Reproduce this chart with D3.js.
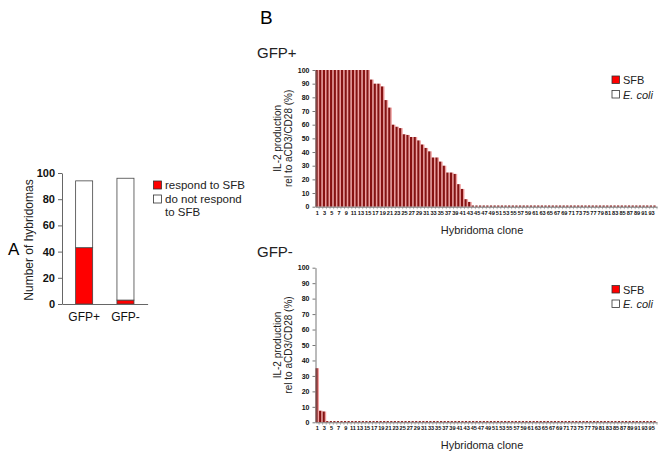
<!DOCTYPE html>
<html><head><meta charset="utf-8">
<script src="https://cdn.jsdelivr.net/npm/d3@7/dist/d3.min.js"></script>
<style>body{margin:0;background:#fff}svg{display:block;font-family:"Liberation Sans",Arial,sans-serif}</style>
</head><body>
<script>
// ---- Panel A data ----
const groupsA = ["GFP+", "GFP-"];
const respondA = [43, 3];
const notRespondA = [51, 93];
const ticksA = [0, 20, 40, 60, 80, 100];
const legendA = ["respond to SFB", "do not respond", "to SFB"];

// ---- Panel B data ----
const gfpPosValues = [100,100,100,100,100,100,100,100,100,100,100,100,100,100,100,
  93,90,90,88,78,72.5,60,58.5,57.5,53,52.5,51,51,48.5,45.5,43,40.5,36,36,33,30,25,25,24,16.5,13,5.5,3.5,
  0,0,0,0,0,0,0,0,0,0,0,0,0,0,0,0,0,0,0,0,0,0,0,0,0,0,0,0,0,0,0,0,0,0,0,0,0,0,0,0,0,0,0,0,0,0,0,0,0,0,0];
const gfpNegValues = [35,7.5,7,
  0,0,0,0,0,0,0,0,0,0,0,0,0,0,0,0,0,0,0,0,0,0,0,0,0,0,0,0,0,0,0,0,0,0,0,0,0,0,0,0,0,0,0,0,0,0,0,0,
  0,0,0,0,0,0,0,0,0,0,0,0,0,0,0,0,0,0,0,0,0,0,0,0,0,0,0,0,0,0,0,0,0,0,0,0,0,0,0,0,0,0,0,0,0];
const ticksB = [0,10,20,30,40,50,60,70,80,90,100];
const legendB = ["SFB", "E. coli"];

const svg = d3.select("body").append("svg").attr("width", 667).attr("height", 460);

// ================= Panel A =================
svg.append("text").attr("x", 8).attr("y", 255).attr("font-size", 17).text("A");
const xA = d3.scaleBand().domain(groupsA).range([62, 147.6]).paddingInner(0.588).paddingOuter(0.33);
const yA = d3.scaleLinear().domain([0, 100]).range([304, 173]);
const gA = svg.append("g");
groupsA.forEach((g, i) => {
  gA.append("rect").attr("x", xA(g)).attr("width", xA.bandwidth())
    .attr("y", yA(respondA[i])).attr("height", yA(0) - yA(respondA[i]))
    .attr("fill", "#ff0000").attr("stroke", "#444").attr("stroke-width", 0.8);
  gA.append("rect").attr("x", xA(g)).attr("width", xA.bandwidth())
    .attr("y", yA(respondA[i] + notRespondA[i])).attr("height", yA(respondA[i]) - yA(respondA[i] + notRespondA[i]))
    .attr("fill", "#fff").attr("stroke", "#444").attr("stroke-width", 0.8);
});
const axA = svg.append("g").attr("transform", "translate(62,0)")
  .call(d3.axisLeft(yA).tickValues(ticksA).tickSize(4).tickSizeOuter(0));
axA.selectAll("text").attr("font-size", 11).attr("font-weight", "bold").attr("fill", "#111")
  .attr("font-family", "Liberation Sans, Arial, sans-serif");
axA.selectAll("path,line").attr("stroke", "#666");
const axAx = svg.append("g").attr("transform", "translate(0,304)")
  .call(d3.axisBottom(xA).tickSize(0).tickSizeOuter(0).tickPadding(8));
axAx.selectAll("text").attr("font-size", 12).attr("fill", "#111").attr("font-family", "Liberation Sans, Arial, sans-serif");
axAx.selectAll("path").attr("stroke", "#666");
svg.append("text").attr("transform", "translate(33,240) rotate(-90)").attr("text-anchor", "middle")
  .attr("font-size", 12).attr("fill", "#222").text("Number of hybridomas");
// legend A
svg.append("rect").attr("x", 153.5).attr("y", 181).attr("width", 8).attr("height", 8).attr("fill", "#ff0000").attr("stroke", "#333").attr("stroke-width", 0.8);
svg.append("rect").attr("x", 153.5).attr("y", 195).attr("width", 8).attr("height", 8).attr("fill", "#fff").attr("stroke", "#333").attr("stroke-width", 0.8);
svg.append("text").attr("x", 165).attr("y", 189).attr("font-size", 11.5).attr("fill", "#222").text(legendA[0]);
svg.append("text").attr("x", 165).attr("y", 203).attr("font-size", 11.5).attr("fill", "#222").text(legendA[1]);
svg.append("text").attr("x", 165).attr("y", 216).attr("font-size", 11.5).attr("fill", "#222").text(legendA[2]);

// ================= Panel B =================
svg.append("text").attr("x", 260).attr("y", 24).attr("font-size", 19).text("B");

function barPanel(values, title, titleY, yTop, yBottom, legendY) {
  const cats = d3.range(1, values.length + 1);
  const x = d3.scaleBand().domain(cats).range([315.5, 657]).padding(0);
  const y = d3.scaleLinear().domain([0, 100]).range([yBottom, yTop]);
  const g = svg.append("g");
  svg.append("text").attr("x", 257).attr("y", titleY).attr("font-size", 15).attr("fill", "#222").text(title);
  const bw = x.bandwidth();
  values.forEach((v, i) => {
    const c = cats[i];
    const h = Math.max(y(0) - y(v), 1.2);
    if (v > 0) g.append("rect").attr("x", x(c) + bw * 0.6).attr("width", bw * 0.4)
      .attr("y", y(0) - h).attr("height", h).attr("fill", "#f2a0a0");
    g.append("rect").attr("x", x(c)).attr("width", bw * 0.62)
      .attr("y", y(0) - h).attr("height", h).attr("fill", "#861212");
  });
  const ay = svg.append("g").attr("transform", "translate(315.5,0)")
    .call(d3.axisLeft(y).tickValues(ticksB).tickSize(3).tickSizeOuter(0).tickPadding(3));
  ay.selectAll("text").attr("font-size", 7).attr("font-weight", "bold").attr("fill", "#111")
    .attr("font-family", "Liberation Sans, Arial, sans-serif");
  ay.selectAll("path,line").attr("stroke", "#777");
  const ax = svg.append("g").attr("transform", `translate(0,${yBottom})`)
    .call(d3.axisBottom(x).tickValues(cats.filter(c => c % 2 === 1)).tickSize(0).tickSizeOuter(0).tickPadding(4));
  ax.selectAll("text").attr("font-size", 5.6).attr("font-weight", "bold").attr("fill", "#111")
    .attr("font-family", "Liberation Sans, Arial, sans-serif");
  ax.selectAll("path").attr("stroke", "#777");
  g.selectAll(null).data(cats).enter().append("line")
    .attr("x1", d => x(d) + bw).attr("x2", d => x(d) + bw)
    .attr("y1", yBottom).attr("y2", yBottom + 2.5).attr("stroke", "#888").attr("stroke-width", 0.6);
  const cy = (yTop + yBottom) / 2;
  svg.append("text").attr("transform", `translate(281,${cy}) rotate(-90)`).attr("text-anchor", "middle")
    .attr("font-size", 10).attr("fill", "#222").text("IL-2 production");
  svg.append("text").attr("transform", `translate(292,${cy}) rotate(-90)`).attr("text-anchor", "middle")
    .attr("font-size", 10).attr("fill", "#222").text("rel to aCD3/CD28 (%)");
  svg.append("text").attr("x", 482).attr("y", yBottom + 27).attr("text-anchor", "middle")
    .attr("font-size", 11).attr("fill", "#222").text("Hybridoma clone");
  svg.append("rect").attr("x", 612).attr("y", legendY).attr("width", 7.5).attr("height", 7.5)
    .attr("fill", "#ff0000").attr("stroke", "#333").attr("stroke-width", 0.8);
  svg.append("rect").attr("x", 612).attr("y", legendY + 14.5).attr("width", 7.5).attr("height", 7.5)
    .attr("fill", "#fff").attr("stroke", "#333").attr("stroke-width", 0.8);
  svg.append("text").attr("x", 623).attr("y", legendY + 8).attr("font-size", 11).attr("fill", "#222").text(legendB[0]);
  svg.append("text").attr("x", 623).attr("y", legendY + 22.5).attr("font-size", 11).attr("font-style", "italic").attr("fill", "#222").text(legendB[1]);
}
barPanel(gfpPosValues, "GFP+", 58, 70, 206.7, 76);
barPanel(gfpNegValues, "GFP-", 257, 267.7, 422.3, 285.5);
</script>
</body></html>
